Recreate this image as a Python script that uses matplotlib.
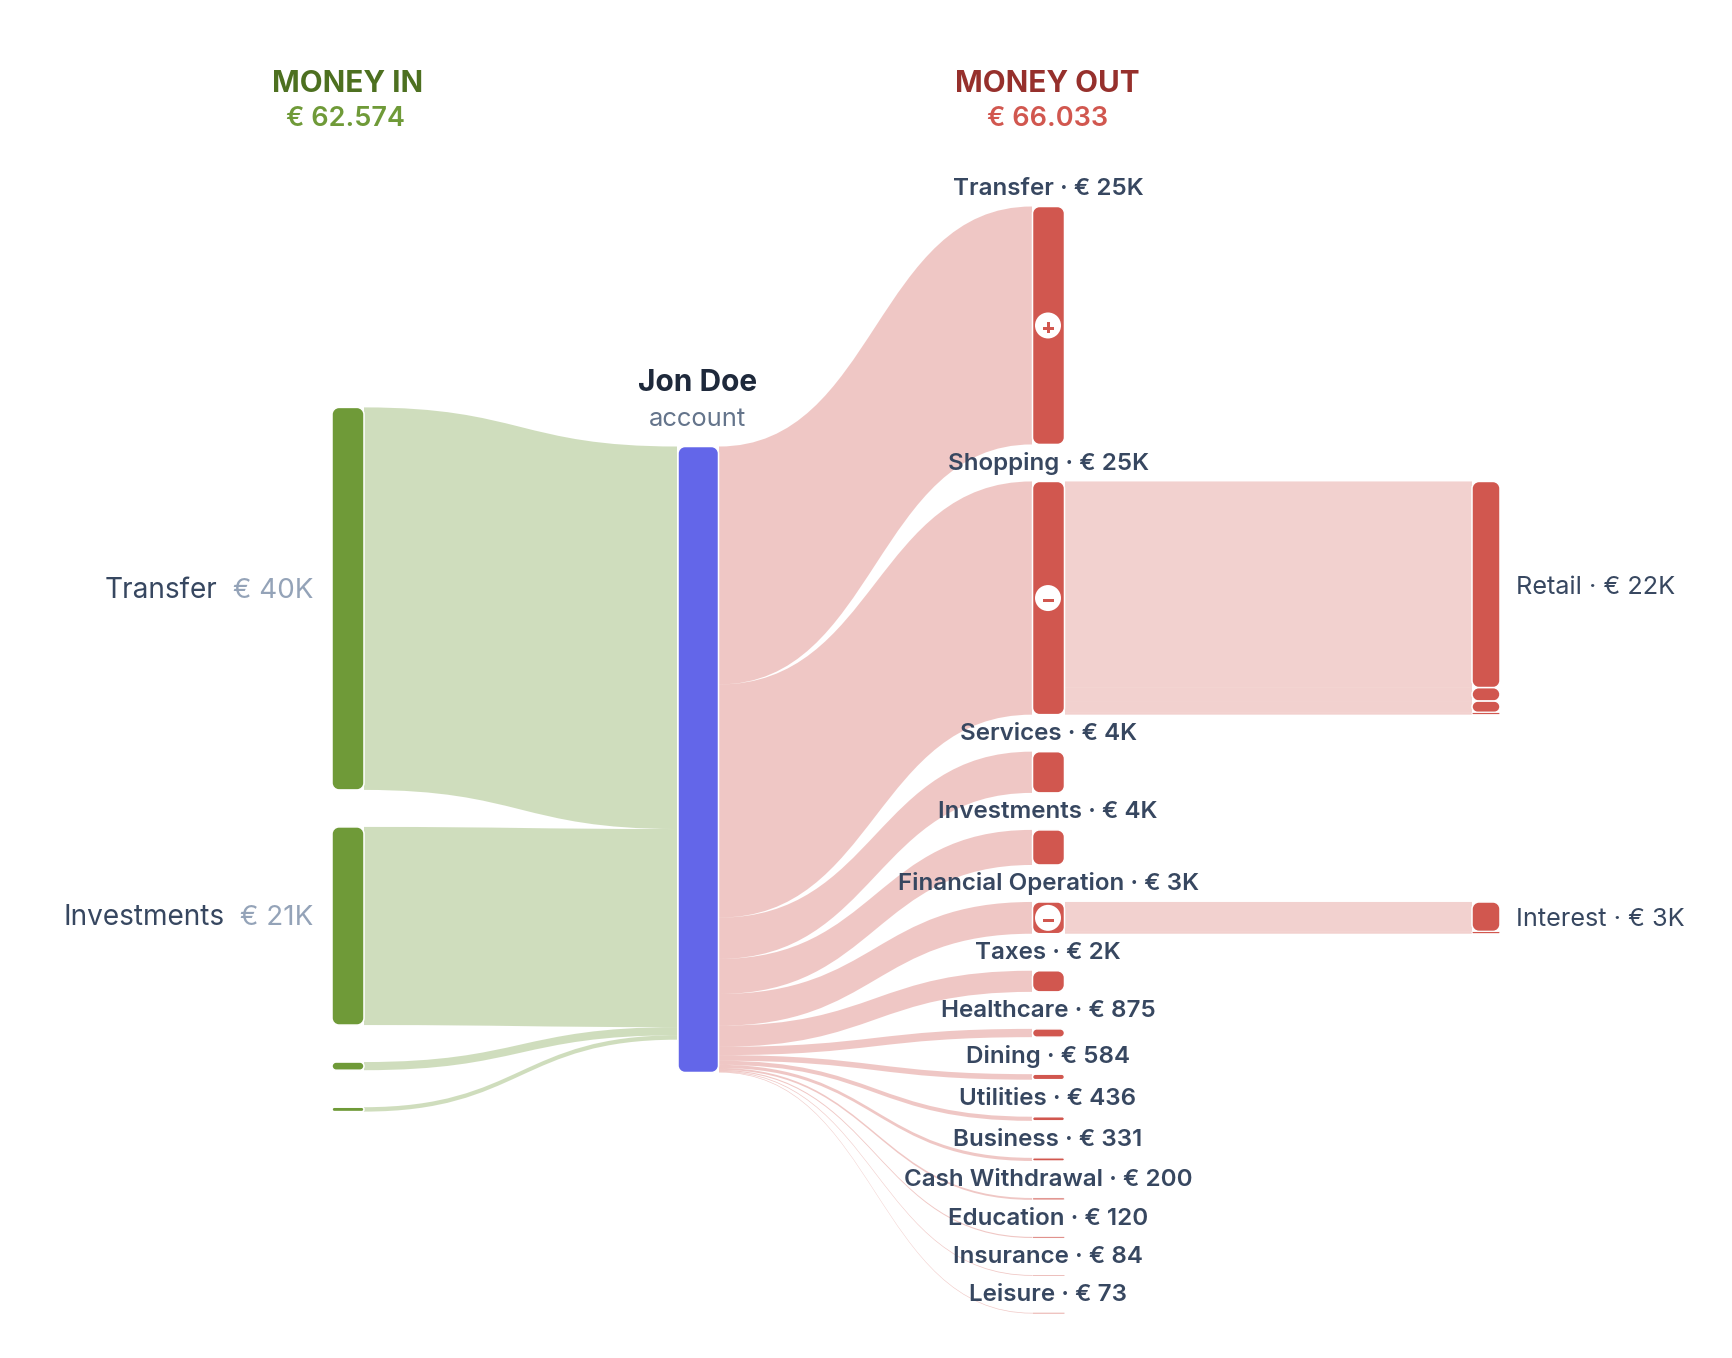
import matplotlib
matplotlib.use('Agg')
import matplotlib.pyplot as plt
from matplotlib.path import Path
from matplotlib.patches import PathPatch, Circle, Rectangle

plt.rcParams['font.family'] = ['Inter', 'DejaVu Sans']

# Money in, left column
in_names = ['Transfer', 'Investments', '', '']
in_values = [40350, 20900, 860, 464]

# Money out, middle right column
out_names = ['Transfer', 'Shopping', 'Services', 'Investments', 'Financial Operation', 'Taxes',
             'Healthcare', 'Dining', 'Utilities', 'Business', 'Cash Withdrawal', 'Education',
             'Insurance', 'Leisure']
out_values = [25100, 24600, 4350, 3700, 3350, 2230, 875, 584, 436, 331, 200, 120, 84, 73]

# Second level breakdown
shopping_names = ['Retail', '', '', '']
shopping_values = [21750, 1420, 1190, 240]
financial_names = ['Interest', '']
financial_values = [3110, 240]

total_in_label = '€ 62.574'
total_out_label = '€ 66.033'

# Layout, in pixels
W, H = 1732, 1358
SCALE = 0.00948  # px per euro
PADDING = 37
MID_Y = 759.5
GREEN = '#6f9a38'
BLUE = '#6366e9'
RED = '#d1574f'
SLATE = '#374760'
KAPPA = 0.55


def fmt(v):
    if v < 1000:
        return f'€ {v}'
    return f'€ {round(v / 1000)}K'


def column_tops(values, mid=MID_Y):
    heights = [v * SCALE for v in values]
    y = mid - (sum(heights) + PADDING * (len(values) - 1)) / 2
    tops = []
    for h in heights:
        tops.append(y)
        y += h + PADDING
    return tops


def draw_link(ax, x0, x1, y0, y1, h, color, alpha):
    # ribbon between two nodes, bezier handles at the middle
    xm = (x0 + x1) / 2
    verts = [(x0, y0), (xm, y0), (xm, y1), (x1, y1), (x1, y1 + h), (xm, y1 + h), (xm, y0 + h), (x0, y0 + h), (x0, y0)]
    codes = [Path.MOVETO, Path.CURVE4, Path.CURVE4, Path.CURVE4, Path.LINETO, Path.CURVE4, Path.CURVE4, Path.CURVE4, Path.CLOSEPOLY]
    ax.add_patch(PathPatch(Path(verts, codes), facecolor=color, edgecolor='none', alpha=alpha, zorder=1))


def rounded_rect(x0, x1, y0, y1, r):
    c = r * (1 - KAPPA)
    verts = [(x0 + r, y0), (x1 - r, y0), (x1 - c, y0), (x1, y0 + c), (x1, y0 + r),
             (x1, y1 - r), (x1, y1 - c), (x1 - c, y1), (x1 - r, y1),
             (x0 + r, y1), (x0 + c, y1), (x0, y1 - c), (x0, y1 - r),
             (x0, y0 + r), (x0, y0 + c), (x0 + c, y0), (x0 + r, y0), (x0 + r, y0)]
    codes = [Path.MOVETO, Path.LINETO, Path.CURVE4, Path.CURVE4, Path.CURVE4,
             Path.LINETO, Path.CURVE4, Path.CURVE4, Path.CURVE4,
             Path.LINETO, Path.CURVE4, Path.CURVE4, Path.CURVE4,
             Path.LINETO, Path.CURVE4, Path.CURVE4, Path.CURVE4, Path.CLOSEPOLY]
    return Path(verts, codes)


def draw_node(ax, x0, x1, y, h, color):
    r = min(7, h / 2)
    # thin nodes would vanish under a full white outline
    lw = 1.1 * min(1, h / 3.5)
    ax.add_patch(PathPatch(rounded_rect(x0, x1, y, y + h, r), facecolor=color, edgecolor='white', linewidth=lw, zorder=2))


def draw_badge(ax, x, y, plus):
    ax.add_patch(Circle((x, y), 13, facecolor='white', edgecolor='none', zorder=3))
    ax.add_patch(Rectangle((x - 5.5, y + 1.1), 11, 3, facecolor=RED, edgecolor='none', zorder=4))
    if plus:
        ax.add_patch(Rectangle((x - 1.5, y - 3), 3, 11, facecolor=RED, edgecolor='none', zorder=4))


def main():
    fig = plt.figure(figsize=(W / 100, H / 100), dpi=100)
    ax = fig.add_axes([0, 0, 1, 1])
    ax.set_xlim(0, W)
    ax.set_ylim(H, 0)
    ax.axis('off')

    center_h = sum(out_values) * SCALE
    center_top = MID_Y - center_h / 2

    # money in
    y_in = center_top
    for name, v, top in zip(in_names, in_values, column_tops(in_values)):
        h = v * SCALE
        draw_link(ax, 364, 677, top, y_in, h, GREEN, 0.33)
        draw_node(ax, 332, 364, top, h, GREEN)
        y_in += h
        if name:
            ty = top + h / 2 - 8
            ax.text(313, ty, fmt(v), ha='right', va='center', fontsize=20, color='#94a3b8')
            ax.text(217 if name == 'Transfer' else 225, ty, name, ha='right', va='center', fontsize=20.2, color=SLATE)

    # money out
    y_out = center_top
    tops = column_tops(out_values, MID_Y + 0.5)
    for name, v, top in zip(out_names, out_values, tops):
        h = v * SCALE
        draw_link(ax, 719, 1032, y_out, top, h, RED, 0.33)
        draw_node(ax, 1032.5, 1064.5, top, h, RED)
        y_out += h
        ax.text(1048, top - 18, f'{name} · {fmt(v)}', ha='center', va='center', fontsize=17.4,
                fontweight='semibold', color=SLATE)

    # second level nodes hang off their parents
    for parent, names, values in [('Shopping', shopping_names, shopping_values),
                                  ('Financial Operation', financial_names, financial_values)]:
        y = tops[out_names.index(parent)]
        for name, v in zip(names, values):
            h = v * SCALE
            draw_link(ax, 1065, 1472, y, y, h, RED, 0.27)
            draw_node(ax, 1472, 1500, y, h, RED)
            if name:
                ax.text(1516, y + h / 2 + 3, f'{name} · {fmt(v)}', ha='left', va='center', fontsize=18.2, color=SLATE)
            y += h

    draw_node(ax, 678, 718.5, center_top, center_h, BLUE)

    for name, plus in [('Transfer', True), ('Shopping', False), ('Financial Operation', False)]:
        i = out_names.index(name)
        draw_badge(ax, 1048, tops[i] + out_values[i] * SCALE / 2, plus)

    # headers
    ax.text(348, 84, 'MONEY IN', ha='center', va='center', fontsize=21.4, fontweight='bold', color='#4d7020')
    ax.text(346, 119, total_in_label, ha='center', va='center', fontsize=19.5, fontweight='semibold', color=GREEN)
    ax.text(1047, 84, 'MONEY OUT', ha='center', va='center', fontsize=21.4, fontweight='bold', color='#96302c')
    ax.text(1048, 119, total_out_label, ha='center', va='center', fontsize=19.5, fontweight='semibold', color=RED)
    ax.text(698, 383, 'Jon Doe', ha='center', va='center', fontsize=21.5, fontweight='bold', color='#1e293b')
    ax.text(698, 419, 'account', ha='center', va='center', fontsize=18.4, color='#64748b')

    fig.savefig('out.png', dpi=100)


if __name__ == '__main__':
    main()
